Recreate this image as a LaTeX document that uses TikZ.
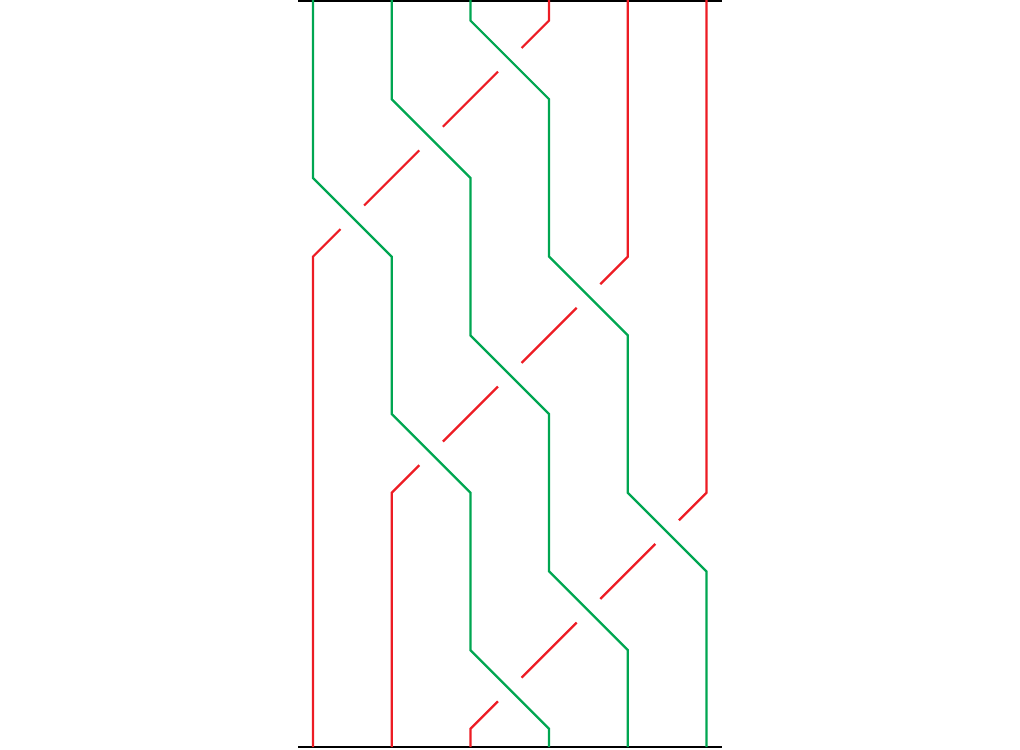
\documentclass[tikz,border=0pt]{standalone}
\definecolor{sgreen}{RGB}{0,166,81}
\definecolor{sred}{RGB}{237,28,36}
\tikzset{
  gstrand/.style={draw=sgreen, line width=0.045cm, line join=miter},
  rstrand/.style={draw=sred, line width=0.045cm, line join=miter},
  frame/.style={draw=black, line width=0.05cm}
}
\begin{document}
\begin{tikzpicture}[x=1.574cm, y=-1.574cm]
\useasboundingbox (-3.977,-0.2605) rectangle (8.983,9.257);
\def\tp{-0.2605}
\def\bt{9.231}
% frame lines
\coordinate (tl) at (-0.19,-0.245);
\coordinate (tr) at (5.197,-0.245);
\coordinate (bl) at (-0.19,\bt);
\coordinate (br) at (5.197,\bt);
\draw[frame] (tl) -- (tr);
\draw[frame] (bl) -- (br);
% red strands (under)
\draw[rstrand] (3,\tp) -- (3,0) -- (2.65,0.35);
\draw[rstrand] (2.35,0.65) -- (1.65,1.35);
\draw[rstrand] (1.35,1.65) -- (0.65,2.35);
\draw[rstrand] (0.35,2.65) -- (0,3) -- (0,\bt);
\draw[rstrand] (4,\tp) -- (4,3) -- (3.65,3.35);
\draw[rstrand] (3.35,3.65) -- (2.65,4.35);
\draw[rstrand] (2.35,4.65) -- (1.65,5.35);
\draw[rstrand] (1.35,5.65) -- (1,6) -- (1,\bt);
\draw[rstrand] (5,\tp) -- (5,6) -- (4.65,6.35);
\draw[rstrand] (4.35,6.65) -- (3.65,7.35);
\draw[rstrand] (3.35,7.65) -- (2.65,8.35);
\draw[rstrand] (2.35,8.65) -- (2,9) -- (2,\bt);
% green strands (over)
\draw[gstrand] (0,\tp) -- (0,2) -- (1,3) -- (1,5) -- (2,6) -- (2,8) -- (3,9) -- (3,\bt);
\draw[gstrand] (1,\tp) -- (1,1) -- (2,2) -- (2,4) -- (3,5) -- (3,7) -- (4,8) -- (4,\bt);
\draw[gstrand] (2,\tp) -- (2,0) -- (3,1) -- (3,3) -- (4,4) -- (4,6) -- (5,7) -- (5,\bt);
\end{tikzpicture}
\end{document}
